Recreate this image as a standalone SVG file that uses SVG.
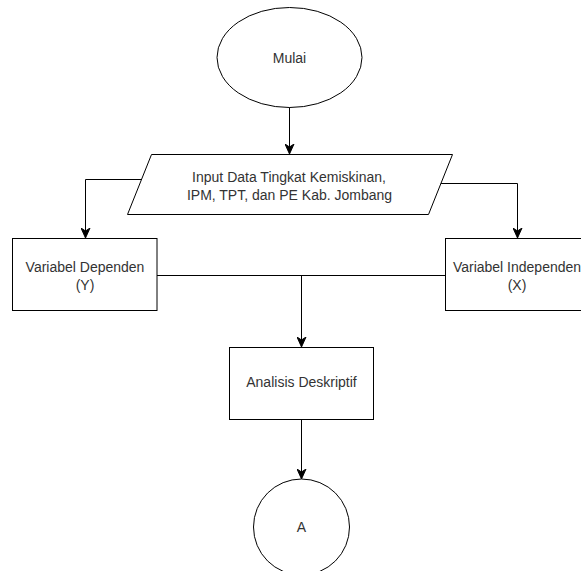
<svg xmlns="http://www.w3.org/2000/svg" width="581" height="571" viewBox="0 0 581 571">
<style>
.s{fill:#fff;stroke:#000;stroke-width:1}
.c{fill:none;stroke:#000;stroke-width:1}
.t{font-family:"Liberation Sans",Arial,sans-serif;font-size:14px;fill:#333;text-anchor:middle;dominant-baseline:central}
</style>
<defs>
<marker id="a" viewBox="0 0 10 10" refX="9" refY="5" markerWidth="10" markerHeight="10" markerUnits="userSpaceOnUse" orient="auto">
<path d="M0,0.5 L10,5 L0,9.5 L3,5 Z" fill="#000" stroke="#000"/>
</marker>
</defs>
<rect width="581" height="571" fill="#fff"/>
<g id="connectors">
<path class="c" d="M289.5,107 V153" marker-end="url(#a)"/>
<path class="c" d="M141,179.5 H85.5 V237" marker-end="url(#a)"/>
<path class="c" d="M440,183.5 H517.5 V237" marker-end="url(#a)"/>
<path class="c" d="M157,275.5 H445"/>
<path class="c" d="M301.5,275.5 V346" marker-end="url(#a)"/>
<path class="c" d="M301.5,419 V478" marker-end="url(#a)"/>
</g>
<g id="mulai">
<ellipse class="s" cx="289.5" cy="57.5" rx="72.5" ry="50"/>
<text class="t" x="289.5" y="57.5">Mulai</text>
</g>
<g id="input">
<polygon class="s" points="151.5,154.5 452.5,154.5 428.5,214.5 127.5,214.5"/>
<text class="t" x="289" y="176.5">Input Data Tingkat Kemiskinan,</text>
<text class="t" x="289.5" y="194.5">IPM, TPT, dan PE Kab. Jombang</text>
</g>
<g id="dependen">
<rect class="s" x="12.5" y="238.5" width="144.5" height="72"/>
<text class="t" x="85" y="267">Variabel Dependen</text>
<text class="t" x="85" y="285">(Y)</text>
</g>
<g id="independen">
<rect class="s" x="445.5" y="238.5" width="144.5" height="72"/>
<text class="t" x="517" y="267">Variabel Independen</text>
<text class="t" x="517" y="285">(X)</text>
</g>
<g id="analisis">
<rect class="s" x="229.5" y="347.5" width="144" height="72"/>
<text class="t" x="301.5" y="382">Analisis Deskriptif</text>
</g>
<g id="a-connector">
<circle class="s" cx="301.5" cy="527" r="48"/>
<text class="t" x="301.5" y="527">A</text>
</g>
</svg>
